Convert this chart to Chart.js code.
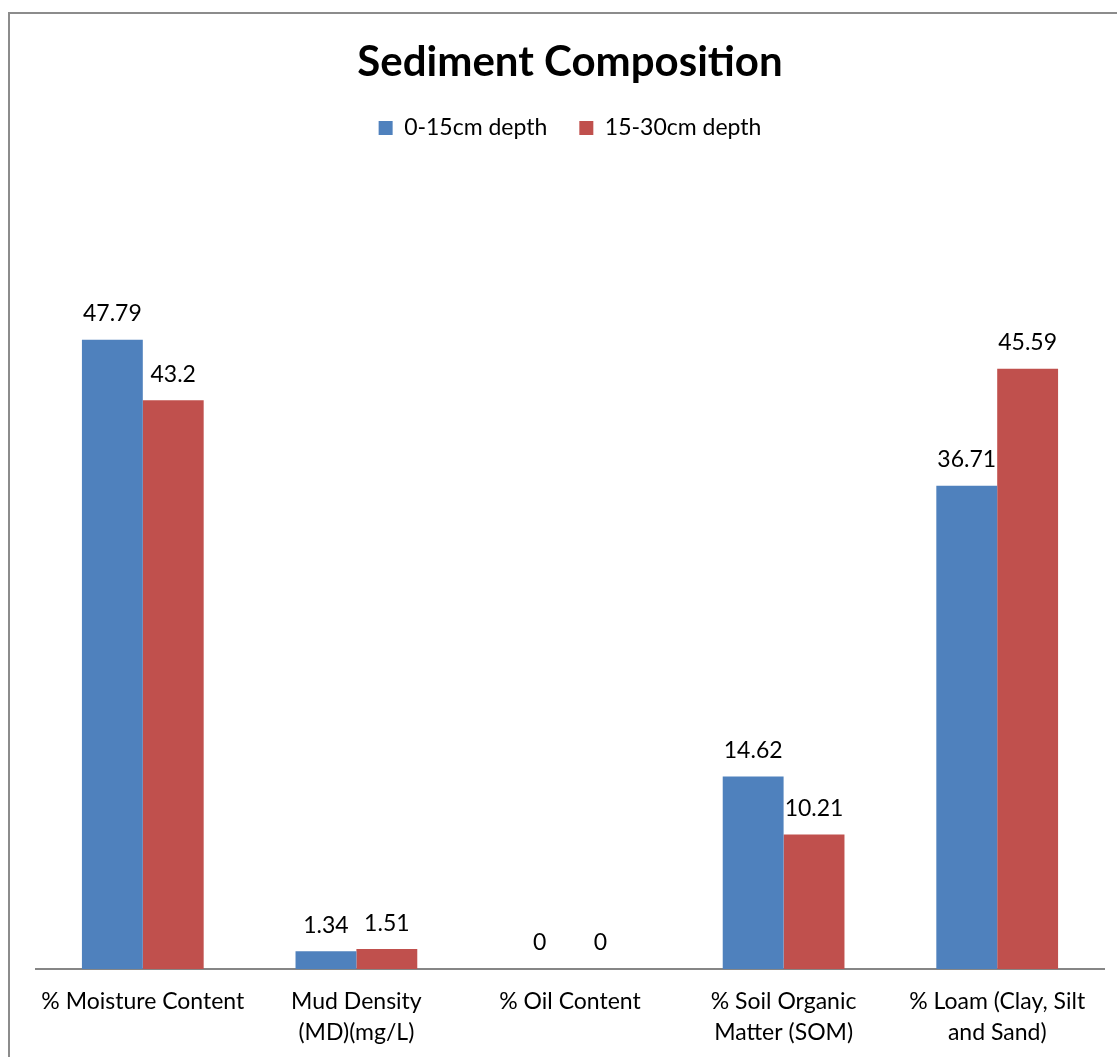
<!DOCTYPE html>
<html>
<head>
<meta charset="utf-8">
<script src="https://cdn.jsdelivr.net/npm/chart.js@4"></script>
<style>
  html, body { margin: 0; padding: 0; background: #fff; overflow: hidden; }
  #wrap { position: absolute; left: 0; top: 0; width: 1117px; height: 1057px; }
  #frame { position: absolute; left: 8px; top: 12px; width: 1200px; height: 1200px; border: 2px solid #8c8c8c; box-sizing: border-box; }
  canvas { position: absolute; left: 0; top: 0; }
</style>
</head>
<body>
<div id="wrap">
  <div id="frame"></div>
  <canvas id="c" width="1117" height="1057"></canvas>
</div>
<script>
const categories = [
  ["% Moisture Content"],
  ["Mud Density", "(MD)(mg/L)"],
  ["% Oil Content"],
  ["% Soil Organic", "Matter (SOM)"],
  ["% Loam (Clay, Silt", "and Sand)"]
];
const seriesNames = ["0-15cm depth", "15-30cm depth"];
const depth0to15 = [47.79, 1.34, 0, 14.62, 36.71];
const depth15to30 = [43.2, 1.51, 0, 10.21, 45.59];
const seriesColors = ["#4F81BD", "#C0504D"];

const FONT = "Lato, 'Open Sans', sans-serif";

const dataLabels = {
  id: 'dataLabels',
  afterDatasetsDraw(chart) {
    const ctx = chart.ctx;
    ctx.save();
    ctx.font = "23px " + FONT;
    ctx.fillStyle = "#000";
    ctx.textAlign = "center";
    ctx.textBaseline = "middle";
    chart.data.datasets.forEach((ds, di) => {
      chart.getDatasetMeta(di).data.forEach((bar, i) => {
        ctx.fillText(String(ds.data[i]), bar.x, bar.y - 26);
      });
    });
    ctx.restore();
  }
};

new Chart(document.getElementById('c'), {
  type: 'bar',
  data: {
    labels: categories,
    datasets: [
      { label: seriesNames[0], data: depth0to15, backgroundColor: seriesColors[0] },
      { label: seriesNames[1], data: depth15to30, backgroundColor: seriesColors[1] }
    ]
  },
  options: {
    responsive: false,
    animation: false,
    devicePixelRatio: 1,
    layout: { padding: { left: 36, right: 13, top: 12, bottom: 0 } },
    datasets: { bar: { categoryPercentage: 0.57, barPercentage: 1.0 } },
    plugins: {
      title: {
        display: true,
        text: "Sediment Composition",
        color: "#000",
        font: { family: FONT, size: 42, weight: "bold", lineHeight: 1.0 },
        padding: { top: 29, bottom: 1.5 }
      },
      legend: {
        display: true,
        labels: {
          color: "#000",
          font: { family: FONT, size: 23 },
          boxWidth: 14,
          boxHeight: 14,
          padding: 32
        }
      },
      subtitle: {
        display: true,
        text: "",
        weight: 500,
        font: { size: 10, lineHeight: 1.0 },
        padding: { top: 19.5, bottom: 0 }
      },
      tooltip: { enabled: false }
    },
    scales: {
      x: {
        grid: { display: false },
        border: { display: true, color: "#868686", width: 2 },
        ticks: {
          color: "#000",
          font: { family: FONT, size: 23, lineHeight: 1.348 },
          padding: 9,
          maxRotation: 0,
          autoSkip: false
        },
        afterFit(scale) { scale.height = 88; }
      },
      y: {
        display: false,
        min: 0,
        max: 60
      }
    }
  },
  plugins: [dataLabels]
});
</script>
</body>
</html>
